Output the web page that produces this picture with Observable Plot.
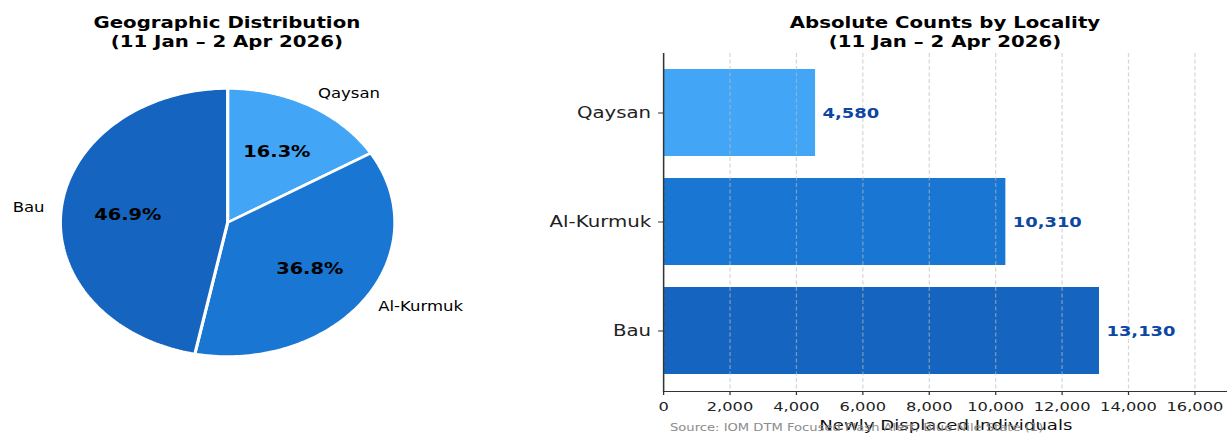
<!DOCTYPE html>
<html>
<head>
<meta charset="utf-8">
<script src="https://cdn.jsdelivr.net/npm/d3@7"></script>
<script src="https://cdn.jsdelivr.net/npm/@observablehq/plot@0.6"></script>
<style>
  html, body { margin: 0; padding: 0; background: #fff; overflow: hidden; }
  #stage { position: relative; width: 982px; height: 434px; transform: scaleX(1.25); transform-origin: 0 0; font-family: "DejaVu Sans", sans-serif; }
  .title { position: absolute; top: 13px; font-weight: bold; font-size: 15.8px; line-height: 19px; text-align: center; color: #000; }
  .caption { position: absolute; left: 536px; top: 421px; font-size: 10.5px; line-height: 12px; color: #8c8c8c; white-space: nowrap; }
  .plot { position: absolute; top: 0; }
</style>
</head>
<body>
<div id="stage">
  <div class="title" style="left:0; width:363px;">Geographic Distribution<br>(11 Jan – 2 Apr 2026)</div>
  <div class="title" style="left:530px; width:452px;">Absolute Counts by Locality<br>(11 Jan – 2 Apr 2026)</div>
  <div id="pie" class="plot" style="left:0;"></div>
  <div id="bars" class="plot" style="left:420px;"></div>
  <div class="caption">Source: IOM DTM Focused Flash Alert, Blue Nile State (1)</div>
</div>
<script>
// ---- data ----
const localities = ["Qaysan", "Al-Kurmuk", "Bau"];
const displaced = [4580, 10310, 13130];
const colors = ["#42A5F5", "#1976D2", "#1565C0"];
const xTicks = [0, 2000, 4000, 6000, 8000, 10000, 12000, 14000, 16000];

const rows = localities.map((name, i) => ({name, value: displaced[i], color: colors[i]}));
const total = d3.sum(displaced);
const fmt = d3.format(",");

// ---- pie (wedges built from d3.pie angles, drawn through Plot scales) ----
const arcs = d3.pie().sort(null).value(d => d.value)(rows);
const wedgeMarks = arcs.map(a => {
  const pts = [{x: 0, y: 0}];
  const n = 120;
  for (let k = 0; k <= n; k++) {
    const t = a.startAngle + (a.endAngle - a.startAngle) * k / n;
    pts.push({x: Math.sin(t), y: Math.cos(t)});
  }
  pts.push({x: 0, y: 0});
  return Plot.line(pts, {x: "x", y: "y", fill: a.data.color, stroke: "white", strokeWidth: 2.5, strokeLinejoin: "round"});
});
const mids = arcs.map(a => ({name: a.data.name, value: a.data.value, mid: (a.startAngle + a.endAngle) / 2}));

const pie = Plot.plot({
  width: 420,
  height: 434,
  style: {fontFamily: "DejaVu Sans, sans-serif", background: "transparent"},
  x: {domain: [-1, 1], range: [181.6 - 133.8, 181.6 + 133.8], axis: null},
  y: {domain: [-1, 1], range: [356, 88], axis: null},
  marks: [
    ...wedgeMarks,
    Plot.text(mids, {
      x: d => 0.6 * Math.sin(d.mid), y: d => 0.6 * Math.cos(d.mid),
      text: d => (d.value / total * 100).toFixed(1) + "%",
      fontWeight: "bold", fontSize: 15.5, fill: "#000"
    }),
    Plot.text(mids.filter(d => Math.sin(d.mid) >= 0), {
      x: d => 1.1 * Math.sin(d.mid), y: d => 1.1 * Math.cos(d.mid),
      text: "name", textAnchor: "start", fontSize: 13.2, fill: "#000"
    }),
    Plot.text(mids.filter(d => Math.sin(d.mid) < 0), {
      x: d => 1.1 * Math.sin(d.mid), y: d => 1.1 * Math.cos(d.mid),
      text: "name", textAnchor: "end", fontSize: 13.2, fill: "#000"
    })
  ]
});
document.getElementById("pie").appendChild(pie);

// ---- horizontal bars ----
const bars = Plot.plot({
  width: 562,
  height: 434,
  marginLeft: 110.4,
  marginRight: 0,
  marginTop: 53,
  marginBottom: 43,
  style: {fontFamily: "DejaVu Sans, sans-serif", background: "transparent", color: "#222"},
  x: {domain: [0, 17000], axis: null},
  y: {domain: localities, paddingInner: 0.2, paddingOuter: 0.15, axis: null},
  color: {domain: localities, range: colors},
  marks: [
    Plot.barX(rows, {x: "value", y: "name", fill: "name"}),
    Plot.gridX({ticks: xTicks, stroke: "#bdbdbd", strokeOpacity: 0.6, strokeDasharray: "4,2.5", strokeWidth: 1}),
    Plot.text(rows, {
      x: "value", y: "name", text: d => fmt(d.value), textAnchor: "start", dx: 5.5,
      fill: "#0D47A1", fontWeight: "bold", fontSize: 14.3
    }),
    Plot.axisX({ticks: xTicks, tickFormat: fmt, tickSize: 4, tickPadding: 6, fontSize: 13, label: null, stroke: "#333"}),
    Plot.axisY({tickSize: 4, tickPadding: 6, fontSize: 15.8, label: null, stroke: "#333"}),
    Plot.frame({anchor: "left", stroke: "#333", strokeWidth: 1.2}),
    Plot.frame({anchor: "bottom", stroke: "#333", strokeWidth: 1.2}),
    Plot.text(["Newly Displaced Individuals"], {frameAnchor: "bottom", dy: 34, lineAnchor: "middle", fontSize: 14.5, fill: "#111"})
  ]
});
document.getElementById("bars").appendChild(bars);
</script>
</body>
</html>
